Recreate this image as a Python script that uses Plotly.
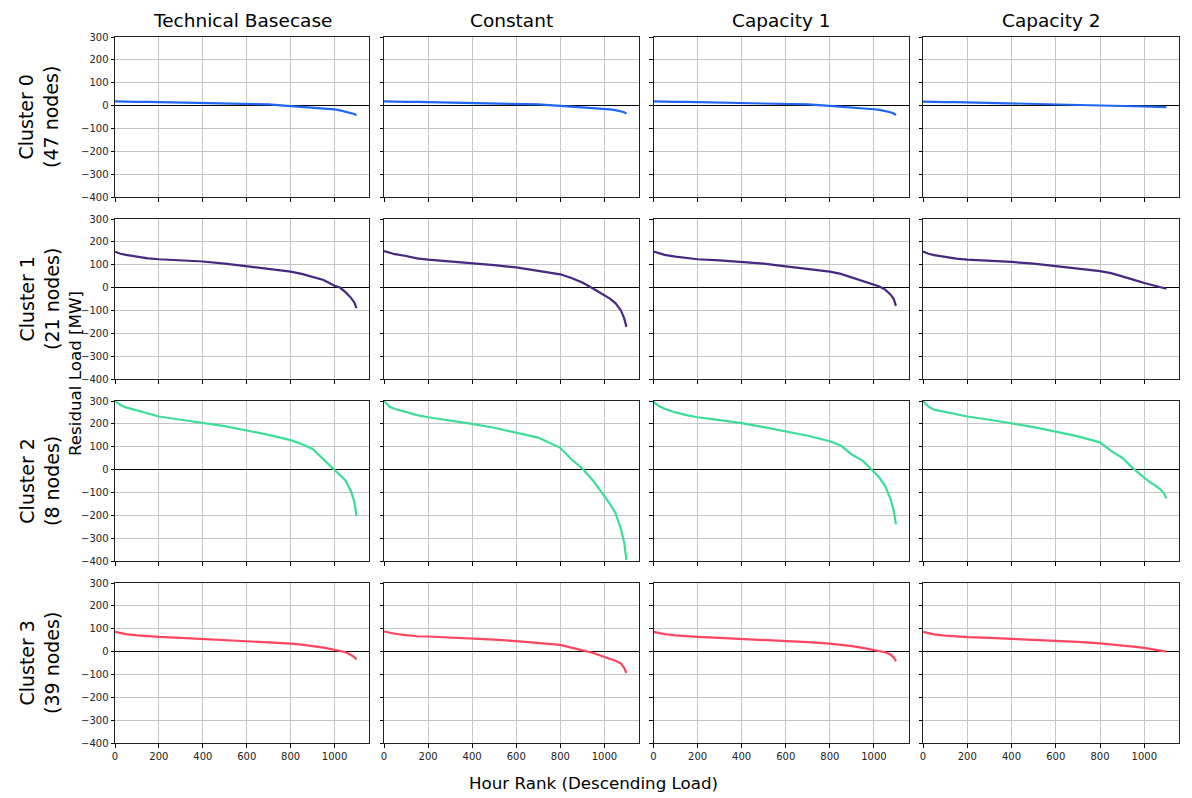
import plotly.graph_objects as go

W, H = 1192, 798

scenarios = ["Technical Basecase", "Constant", "Capacity 1", "Capacity 2"]
clusters = ["Cluster 0<br>(47 nodes)", "Cluster 1<br>(21 nodes)", "Cluster 2<br>(8 nodes)", "Cluster 3<br>(39 nodes)"]
colors = ["#1f66f2", "#47287f", "#3ddc97", "#ff4560"]

ranks = [0, 25, 50, 100, 150, 200, 300, 400, 500, 600, 700, 800, 850, 900, 950, 1000, 1025, 1050, 1075, 1090, 1100]

# Cluster 0
c0_tech = [18, 17, 17, 16, 16, 15, 14, 13, 11, 8, 5, -2, -5, -8, -12, -17, -21, -26, -32, -37, -42]
c0_const = [18, 17, 17, 16, 16, 15, 14, 13, 11, 8, 5, -1, -4, -7, -10, -14, -17, -20, -24, -29, -35]
c0_cap1 = [18, 17, 17, 16, 16, 15, 14, 13, 11, 8, 5, -1, -4, -8, -12, -16, -19, -23, -29, -35, -42]
c0_cap2 = [17, 16, 16, 15, 15, 14, 13, 11, 9, 7, 4, 0, -1, -2, -3, -4, -5, -5, -6, -6, -7]
# Cluster 1
c1_tech = [157, 148, 143, 135, 128, 124, 119, 114, 105, 93, 80, 70, 60, 47, 33, 8, 0, -20, -45, -65, -90]
c1_const = [160, 152, 146, 138, 128, 122, 115, 108, 98, 88, 74, 58, 42, 22, -5, -34, -48, -68, -100, -135, -172]
c1_cap1 = [158, 149, 143, 135, 128, 124, 119, 113, 105, 93, 82, 70, 60, 45, 30, 12, 5, -8, -30, -50, -80]
c1_cap2 = [158, 148, 142, 134, 127, 122, 118, 112, 105, 95, 85, 72, 63, 50, 35, 20, 14, 8, 2, -2, -5]
# Cluster 2
c2_tech = [300, 282, 272, 258, 243, 232, 218, 203, 190, 171, 152, 129, 112, 90, 45, 1, -22, -48, -95, -140, -204]
c2_const = [300, 275, 265, 250, 238, 229, 215, 200, 183, 163, 140, 95, 45, 5, -50, -116, -150, -190, -260, -320, -396]
c2_cap1 = [296, 278, 266, 250, 238, 229, 216, 203, 186, 168, 148, 124, 105, 66, 38, -10, -36, -70, -128, -180, -240]
c2_cap2 = [300, 275, 262, 251, 240, 232, 218, 203, 186, 166, 145, 119, 82, 52, 5, -35, -55, -70, -88, -105, -126]
# Cluster 3
c3_tech = [86, 80, 76, 71, 66, 64, 60, 55, 51, 46, 41, 35, 30, 25, 17, 8, 3, -3, -15, -24, -35]
c3_const = [88, 82, 78, 72, 67, 66, 62, 58, 52, 46, 38, 29, 17, 4, -6, -24, -32, -40, -52, -72, -94]
c3_cap1 = [86, 80, 76, 71, 66, 64, 60, 56, 52, 47, 41, 35, 30, 24, 16, 7, 3, -3, -13, -25, -42]
c3_cap2 = [86, 79, 75, 70, 66, 63, 60, 56, 52, 47, 42, 36, 32, 27, 22, 16, 12, 9, 5, 2, 0]

series = [
    [c0_tech, c0_const, c0_cap1, c0_cap2],
    [c1_tech, c1_const, c1_cap1, c1_cap2],
    [c2_tech, c2_const, c2_cap1, c2_cap2],
    [c3_tech, c3_const, c3_cap1, c3_cap2],
]

x_ticks = [0, 200, 400, 600, 800, 1000]
y_ticks = [-400, -300, -200, -100, 0, 100, 200, 300]

col_px = [(115, 369), (384, 639), (653.5, 908.5), (923, 1179)]
row_px = [(37, 197), (219, 379), (401, 561), (583, 743)]

fig = go.Figure()
layout = dict(
    template="none",
    width=W, height=H,
    margin=dict(l=0, r=0, t=0, b=0, pad=0, autoexpand=False),
    paper_bgcolor="white", plot_bgcolor="white",
    showlegend=False,
    font=dict(family="DejaVu Sans", color="black"),
)

FONT = "DejaVu Sans"
for r in range(4):
    for c in range(4):
        idx = r * 4 + c + 1
        sfx = "" if idx == 1 else str(idx)
        x0, x1 = col_px[c]
        y0, y1 = row_px[r]
        layout["xaxis" + sfx] = dict(
            domain=[x0 / W, x1 / W], anchor="y" + sfx, range=[0, 1157],
            tickvals=x_ticks, showticklabels=(r == 3), ticks="outside", ticklen=3.5,
            tickcolor="black", tickwidth=1, automargin=False,
            showgrid=True, gridcolor="#c4c4c4", gridwidth=1,
            showline=True, linecolor="#222", linewidth=1, mirror=True,
            zeroline=False, tickfont=dict(size=10, family=FONT, color="#222"),
        )
        layout["yaxis" + sfx] = dict(
            domain=[1 - y1 / H, 1 - y0 / H], anchor="x" + sfx, range=[-400, 300],
            tickvals=y_ticks, showticklabels=(c == 0), ticks="outside", ticklen=3.5,
            tickcolor="black", tickwidth=1, automargin=False,
            showgrid=True, gridcolor="#c4c4c4", gridwidth=1,
            showline=True, linecolor="#222", linewidth=1, mirror=True,
            zeroline=True, zerolinecolor="black", zerolinewidth=1.3,
            tickfont=dict(size=10, family=FONT, color="#222"),
        )
        fig.add_trace(go.Scatter(
            x=ranks, y=series[r][c], mode="lines",
            line=dict(color=colors[r], width=2.2),
            xaxis="x" + sfx, yaxis="y" + sfx,
        ))

annotations = []
for c, name in enumerate(scenarios):
    x0, x1 = col_px[c]
    annotations.append(dict(
        text=name, x=(x0 + x1) / 2 / W, y=1 - 20 / H, xref="paper", yref="paper",
        xanchor="center", yanchor="middle", showarrow=False,
        font=dict(size=18.5, family=FONT, color="black"),
    ))
for r, name in enumerate(clusters):
    y0, y1 = row_px[r]
    annotations.append(dict(
        text=name, x=39 / W, y=1 - (y0 + y1) / 2 / H, xref="paper", yref="paper",
        xanchor="center", yanchor="middle", showarrow=False, textangle=-90,
        font=dict(size=19, family=FONT, color="black"),
    ))
annotations.append(dict(
    text="Residual Load [MW]", x=75 / W, y=1 - 374 / H, xref="paper", yref="paper",
    xanchor="center", yanchor="middle", showarrow=False, textangle=-90,
    font=dict(size=16.7, family=FONT, color="black"),
))
annotations.append(dict(
    text="Hour Rank (Descending Load)", x=593 / W, y=1 - 783 / H, xref="paper", yref="paper",
    xanchor="center", yanchor="middle", showarrow=False,
    font=dict(size=16.7, family=FONT, color="black"),
))
layout["annotations"] = annotations
fig.update_layout(**layout)
fig.write_html("out.html", config={"displayModeBar": False},
               post_script="document.body.style.margin='0px';")
